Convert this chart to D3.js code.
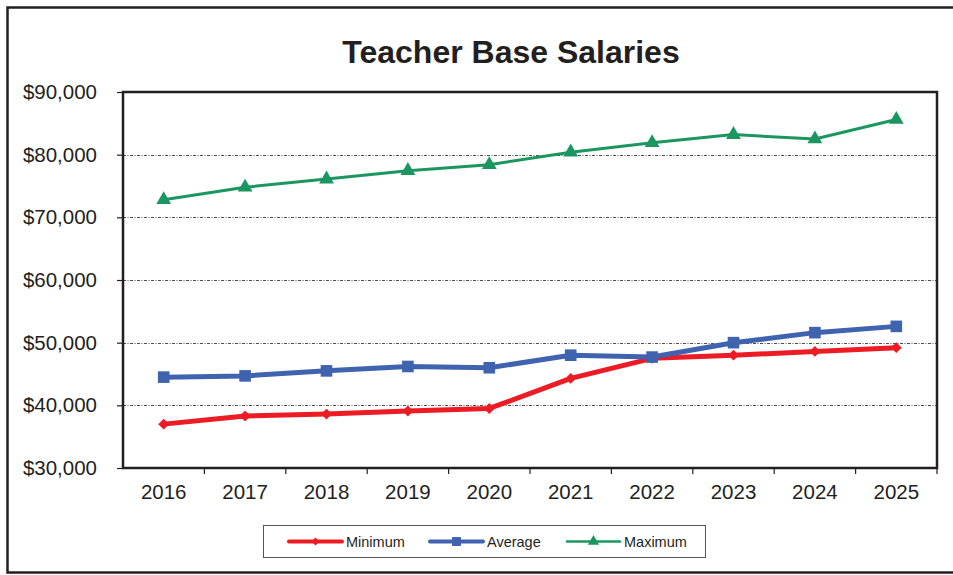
<!DOCTYPE html>
<html>
<head>
<meta charset="utf-8">
<script src="https://cdn.jsdelivr.net/npm/d3@7"></script>
<style>
	html, body { margin: 0; padding: 0; background: #fff; }
	svg { display: block; font-family: "Liberation Sans", Arial, sans-serif; }
</style>
</head>
<body>
<svg id="chart" width="953" height="575"></svg>
<script>
// Chart data
const years = ["2016", "2017", "2018", "2019", "2020", "2021", "2022", "2023", "2024", "2025"];
const minimum = [37000, 38300, 38600, 39100, 39500, 44300, 47500, 48000, 48600, 49200];
const average = [44500, 44700, 45500, 46200, 46000, 48000, 47700, 50000, 51600, 52600];
const maximum = [72800, 74800, 76100, 77450, 78400, 80400, 81900, 83200, 82500, 85600];
const yTicks = [30000, 40000, 50000, 60000, 70000, 80000, 90000];

const COLORS = {
	min:  "#ed1c24",
	avg:  "#4063b0",
	max:  "#1c9660",
	ink:  "#231f20",
	grid: "#4d4d4d",
};

const svg = d3.select("#chart");
const plot = { left: 123, right: 937, top: 92, bottom: 468 };

// outer frame
svg.append("rect")
	.attr("x", 7.5).attr("y", 7.5)
	.attr("width", 960).attr("height", 565)
	.attr("fill", "#fff")
	.attr("stroke", COLORS.ink).attr("stroke-width", 2.5);

svg.append("text")
	.attr("x", 511).attr("y", 63)
	.attr("text-anchor", "middle")
	.attr("font-size", 32).attr("font-weight", "bold")
	.attr("fill", COLORS.ink)
	.text("Teacher Base Salaries");

const x = d3.scaleBand().domain(years).range([plot.left, plot.right]);
const y = d3.scaleLinear().domain([30000, 90000]).range([plot.bottom, plot.top]);

// gridlines (inner ticks only)
svg.append("g")
	.selectAll("line")
	.data(yTicks.slice(1, -1))
	.join("line")
	.attr("x1", plot.left).attr("x2", plot.right)
	.attr("y1", d => Math.round(y(d)) + 0.5).attr("y2", d => Math.round(y(d)) + 0.5)
	.attr("stroke", COLORS.grid).attr("stroke-width", 1)
	.attr("stroke-dasharray", "3,1.5,1,1.5");

// plot box
svg.append("rect")
	.attr("x", plot.left).attr("y", plot.top)
	.attr("width", plot.right - plot.left).attr("height", plot.bottom - plot.top)
	.attr("fill", "none")
	.attr("stroke", COLORS.ink).attr("stroke-width", 2.5);

// y axis
const fmt = d => "$" + d3.format(",")(d);
const yAxis = svg.append("g")
	.attr("transform", `translate(${plot.left},0)`)
	.call(d3.axisLeft(y).tickValues(yTicks).tickFormat(fmt).tickSize(6).tickPadding(20));
yAxis.select(".domain").remove();
yAxis.selectAll(".tick line").attr("stroke", COLORS.ink).attr("stroke-width", 1.2);
yAxis.selectAll(".tick text")
	.attr("font-family", "inherit").attr("font-size", 20.5).attr("fill", COLORS.ink);

// x axis: ticks at band boundaries
const xAxis = svg.append("g")
	.attr("transform", `translate(0,${plot.bottom})`)
	.call(d3.axisBottom(x).tickSize(0).tickPadding(16));
xAxis.select(".domain").remove();
xAxis.selectAll(".tick text")
	.attr("font-family", "inherit").attr("font-size", 20.5).attr("fill", COLORS.ink);
xAxis.selectAll("line.sep")
	.data(years.slice(1).concat(["end"]))
	.join("line")
	.attr("class", "sep")
	.attr("x1", (d, i) => x(years[0]) + x.step() * (i + 1))
	.attr("x2", (d, i) => x(years[0]) + x.step() * (i + 1))
	.attr("y1", 0).attr("y2", 6)
	.attr("stroke", COLORS.ink).attr("stroke-width", 1.2);

const series = [
	{ name: "Minimum", values: minimum, color: COLORS.min, width: 5, lw: 4, marker: "diamond" },
	{ name: "Average", values: average, color: COLORS.avg, width: 5, lw: 4, marker: "square" },
	{ name: "Maximum", values: maximum, color: COLORS.max, width: 3, lw: 2.5, marker: "triangle" },
];

const markerPath = {
	diamond:  d3.symbol(d3.symbolDiamond2, 75)(),
	square:   d3.symbol(d3.symbolSquare, 135)(),
	triangle: d3.symbol(d3.symbolTriangle, 95)(),
};

const cx = d => x(d) + x.bandwidth() / 2;
const line = d3.line().x(d => cx(d[0])).y(d => y(d[1]));

series.forEach(s => {
	const pts = years.map((yr, i) => [yr, s.values[i]]);
	const g = svg.append("g");
	g.append("path")
		.attr("d", line(pts))
		.attr("fill", "none")
		.attr("stroke", s.color).attr("stroke-width", s.width)
		.attr("stroke-linejoin", "round");
	g.selectAll("path.m")
		.data(pts)
		.join("path")
		.attr("class", "m")
		.attr("d", markerPath[s.marker])
		.attr("transform", d => `translate(${cx(d[0])},${y(d[1])})`)
		.attr("fill", s.color);
});

// legend
const legend = svg.append("g");
legend.append("rect")
	.attr("x", 263.5).attr("y", 525.5)
	.attr("width", 442).attr("height", 32)
	.attr("fill", "#fff")
	.attr("stroke", "#555").attr("stroke-width", 1);

const legendX = [289, 430, 567];
const legendMarker = {
	diamond:  d3.symbol(d3.symbolDiamond2, 40)(),
	square:   d3.symbol(d3.symbolSquare, 80)(),
	triangle: d3.symbol(d3.symbolTriangle, 55)(),
};
series.forEach((s, i) => {
	const lx = legendX[i], ly = 541.5;
	legend.append("line")
		.attr("x1", lx).attr("x2", lx + 53)
		.attr("y1", ly).attr("y2", ly)
		.attr("stroke", s.color).attr("stroke-width", s.lw)
		.attr("stroke-linecap", "round");
	legend.append("path")
		.attr("d", legendMarker[s.marker])
		.attr("transform", `translate(${lx + 26.5},${ly})`)
		.attr("fill", s.color);
	legend.append("text")
		.attr("x", lx + 57).attr("y", ly + 5)
		.attr("font-size", 14.5).attr("fill", COLORS.ink)
		.text(s.name);
});
</script>
</body>
</html>
